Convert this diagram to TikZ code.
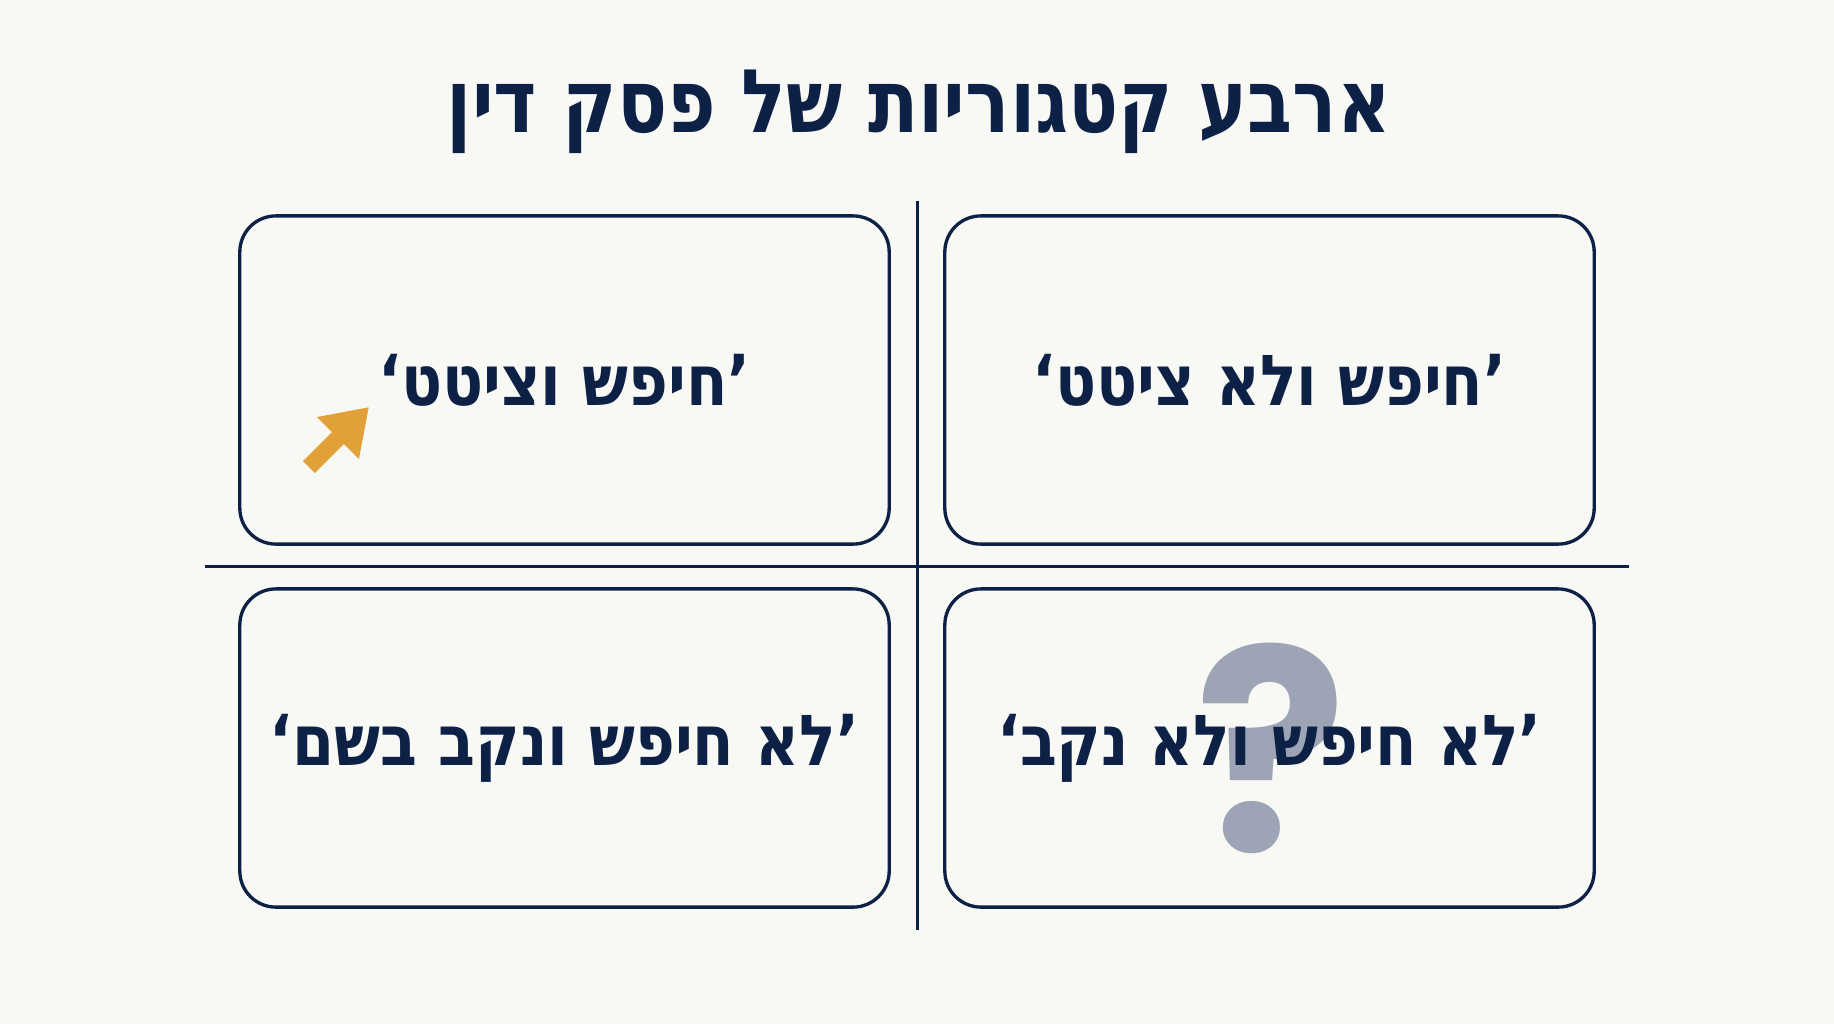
\documentclass[tikz,border=0pt]{standalone}
\usepackage{fontspec}
\usepackage{xcolor}
\usetikzlibrary{arrows.meta}
\TeXXeTstate=1
\newfontfamily\hebfont[Script=Hebrew, FakeStretch=0.86]{DejaVu Sans}
\newfontfamily\titlefont[Script=Hebrew, FakeStretch=0.84]{DejaVu Sans}
\newfontfamily\qfont{Poppins Bold}
\definecolor{navy}{HTML}{0D2146}
\definecolor{paper}{HTML}{F8F8F4}
\definecolor{qgray}{HTML}{9CA4B6}
\definecolor{pointer}{HTML}{E2A138}

\begin{document}
\begin{tikzpicture}[x=0.01cm, y=-0.01cm,
        card/.style={draw=navy, line width=0.95pt, rounded corners=0.36cm,
            minimum width=6.49cm, minimum height=3.28cm, inner sep=0pt,
            text=navy, font=\hebfont\bfseries\fontsize{20}{24}\selectfont},
        divider/.style={navy, line width=0.85pt}]
        % page (1834 x 1024 px)
        \fill[paper] (0,0) rectangle (1834,1024);
        \useasboundingbox (0,0) rectangle (1834,1024);

        % Title
        \node[text=navy, font=\titlefont\bfseries\fontsize{25}{30}\selectfont] (title) at (919,112)
            {\beginR ארבע קטגוריות של פסק דין\endR};

        % Big question mark behind the last card
        \node[text=qgray, inner sep=0pt, anchor=base,
            font=\qfont\fontsize{80}{90}\selectfont] (qmark) at (1271,851) {?};

        % Divider lines
        \coordinate (vtop) at (917,201);
        \coordinate (vbot) at (917,930);
        \coordinate (hleft) at (205,566);
        \coordinate (hright) at (1629,566);
        \draw[divider] (vtop) -- (vbot);
        \draw[divider] (hleft) -- (hright);

        % Four cards
        \node[card] (searchcite) at (564.5,380) {\beginR ’חיפש וציטט‘\endR};
        \node[card] (searchnocite) at (1269.5,380) {\beginR ’חיפש ולא ציטט‘\endR};
        \node[card, minimum height=3.18cm] (nosearchname) at (564.5,748) {\beginR ’לא חיפש ונקב בשם‘\endR};
        \node[card, minimum height=3.18cm] (nosearchnoname) at (1269.5,748) {\beginR ’לא חיפש ולא נקב‘\endR};

        % Orange pointer
        \coordinate (ptail) at (309,467);
        \coordinate (ptip) at (369,407);
        \draw[pointer, line width=4.8pt, -{Triangle[length=12.5pt, width=16pt]}] (ptail) -- (ptip);
    \end{tikzpicture}
\end{document}
